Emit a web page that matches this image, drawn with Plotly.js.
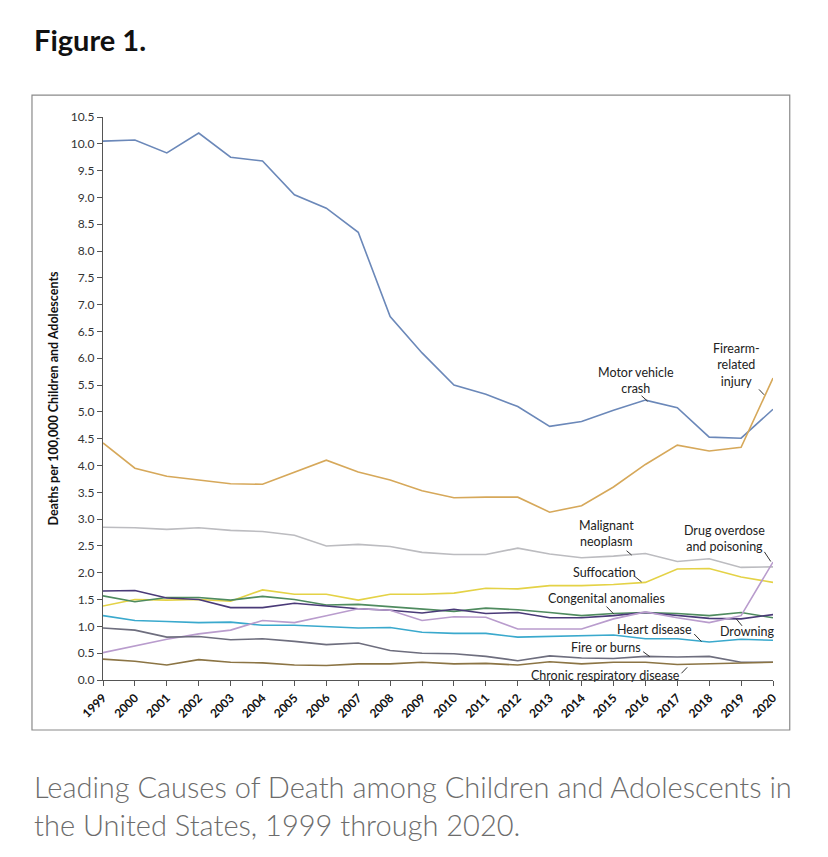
<!DOCTYPE html>
<html>
<head>
<meta charset="utf-8">
<script src="https://cdn.plot.ly/plotly-3.0.1.min.js"></script>
<style>html,body{margin:0;padding:0;background:#fff;}#chart{width:828px;height:857px;}</style>
</head>
<body>
<div id="chart"></div>
<script>
const years = [1999,2000,2001,2002,2003,2004,2005,2006,2007,2008,2009,2010,2011,2012,2013,2014,2015,2016,2017,2018,2019,2020];

const motorVehicle = [10.05,10.07,9.83,10.20,9.75,9.68,9.05,8.80,8.35,6.78,6.10,5.50,5.33,5.10,4.73,4.82,5.03,5.22,5.08,4.53,4.51,5.05];
const firearm      = [4.42,3.95,3.80,3.73,3.66,3.65,3.87,4.10,3.88,3.73,3.53,3.40,3.41,3.41,3.13,3.25,3.60,4.02,4.38,4.27,4.34,5.63];
const malignant    = [2.85,2.84,2.81,2.84,2.79,2.77,2.70,2.50,2.53,2.49,2.38,2.34,2.34,2.46,2.35,2.28,2.31,2.36,2.21,2.26,2.10,2.11];
const suffocation  = [1.38,1.50,1.49,1.50,1.47,1.68,1.60,1.60,1.49,1.60,1.60,1.62,1.71,1.70,1.76,1.76,1.78,1.82,2.07,2.08,1.92,1.82];
const congenital   = [1.57,1.46,1.54,1.54,1.49,1.56,1.50,1.40,1.41,1.37,1.33,1.28,1.34,1.31,1.26,1.20,1.24,1.26,1.24,1.20,1.26,1.16];
const drowning     = [1.66,1.67,1.53,1.50,1.35,1.35,1.43,1.38,1.33,1.30,1.25,1.32,1.24,1.26,1.16,1.16,1.20,1.26,1.20,1.15,1.14,1.22];
const heart        = [1.20,1.11,1.09,1.07,1.08,1.02,1.02,0.99,0.97,0.98,0.89,0.87,0.87,0.80,0.81,0.82,0.84,0.77,0.77,0.71,0.76,0.74];
const drugOverdose = [0.51,0.64,0.76,0.86,0.93,1.11,1.07,1.20,1.33,1.30,1.11,1.18,1.17,0.95,0.95,0.95,1.14,1.27,1.16,1.07,1.20,2.20];
const fireBurns    = [0.97,0.93,0.80,0.81,0.75,0.77,0.72,0.66,0.69,0.55,0.50,0.49,0.44,0.36,0.45,0.41,0.40,0.44,0.43,0.44,0.33,0.33];
const chronicResp  = [0.39,0.35,0.28,0.38,0.33,0.32,0.28,0.27,0.30,0.30,0.33,0.30,0.31,0.28,0.34,0.30,0.33,0.33,0.29,0.30,0.32,0.33];

const seriesNames = ["Motor vehicle crash","Firearm-related injury","Malignant neoplasm","Suffocation","Congenital anomalies","Drowning","Heart disease","Drug overdose and poisoning","Fire or burns","Chronic respiratory disease"];
const seriesData = [motorVehicle,firearm,malignant,suffocation,congenital,drowning,heart,drugOverdose,fireBurns,chronicResp];
const seriesColors = ["#6b88b9","#d6a85a","#bcbcc0","#e4d246","#4f8b5f","#4a3a78","#3aa9cd","#b99ccd","#6e6e7e","#8b7444"];

// Label texts with positions (data coordinates) and leader segments
const labelText = ["Motor vehicle<br>crash","Firearm-<br>related<br>injury","Malignant<br>neoplasm","Drug overdose<br>and poisoning","Suffocation","Congenital anomalies","Heart disease","Drowning","Fire or burns","Chronic respiratory disease"];
const labelX = [2015.7,2018.87,2014.78,2018.47,2014.73,2014.77,2016.3,2019.17,2014.78,2014.75];
const labelY = [5.58,5.87,2.74,2.64,2.01,1.52,0.945,0.90,0.61,0.093];
const leaderX0 = [2015.88,2019.56,2015.41,2019.73,2015.67,2014.78,2017.53,2018.85,2015.93,2017.13];
const leaderY0 = [5.30,5.42,2.41,2.39,1.93,1.37,0.858,1.14,0.528,0.125];
const leaderX1 = [2016.07,2019.72,2015.57,2019.93,2015.88,2015.01,2017.76,2019.03,2016.14,2017.31];
const leaderY1 = [5.20,5.32,2.33,2.21,1.83,1.23,0.715,1.01,0.435,0.236];

const traces = seriesData.map((d,i)=>({
  x: years, y: d, type:'scatter', mode:'lines', name: seriesNames[i],
  line:{color: seriesColors[i], width:1.6}, hoverinfo:'x+y+name', cliponaxis:false
}));

const annotations = labelText.map((t,i)=>({
  x: labelX[i], y: labelY[i], xref:'x', yref:'y', text:t, showarrow:false,
  font:{family:'Lato, "Open Sans", sans-serif', size:12.5, color:'#222'},
  xanchor:'center', yanchor:'middle', align:'center'
}));

annotations.push({
  xref:'paper', yref:'paper', x:-0.106, y:1.137, xanchor:'left', yanchor:'middle',
  text:'<b>Figure 1.</b>', showarrow:false,
  font:{family:'Lato, sans-serif', size:29, color:'#111'}
});
annotations.push({
  xref:'paper', yref:'paper', x:-0.106, y:-0.155, xanchor:'left', yanchor:'top', align:'left',
  text:'Leading Causes of Death among Children and Adolescents in<br>the United States, 1999 through 2020.',
  showarrow:false,
  font:{family:'Lato, sans-serif', size:29, color:'#6c6c6c', weight:300}
});

const shapes = labelText.map((t,i)=>({
  type:'line', xref:'x', yref:'y', x0:leaderX0[i], y0:leaderY0[i], x1:leaderX1[i], y1:leaderY1[i],
  line:{color:'#333', width:1}
}));
shapes.push({
  type:'rect', xref:'paper', yref:'paper', x0:-0.106, x1:1.025, y0:-0.0888, y1:1.039,
  line:{color:'#8a8a8a', width:1.2}, fillcolor:'rgba(0,0,0,0)', layer:'below'
});

const layout = {
  width:828, height:857,
  margin:{l:103, r:55, t:117, b:177, pad:0},
  paper_bgcolor:'#fff', plot_bgcolor:'#fff',
  showlegend:false,
  font:{family:'Lato, "Open Sans", sans-serif', color:'#333'},
  xaxis:{
    range:[1999,2020], tickmode:'array', tickvals:years, ticktext:years.map(String),
    tickangle:-45, ticks:'outside', ticklen:5, tickcolor:'#555', showline:true, linecolor:'#555', linewidth:1.2,
    showgrid:false, zeroline:false, tickfont:{size:12, color:'#111', weight:'bold'}
  },
  yaxis:{
    range:[0,10.5], dtick:0.5, tick0:0, tickformat:'.1f', ticks:'outside', ticklen:5, tickcolor:'#555',
    showline:true, linecolor:'#555', linewidth:1.2, showgrid:false, zeroline:false,
    tickfont:{size:12, color:'#333'},
    title:{text:'<b>Deaths per 100,000 Children and Adolescents</b>', standoff:9, font:{size:12.5, color:'#111'}}
  },
  annotations: annotations,
  shapes: shapes
};

Plotly.newPlot('chart', traces, layout, {displayModeBar:false, staticPlot:true});
</script>
</body>
</html>
